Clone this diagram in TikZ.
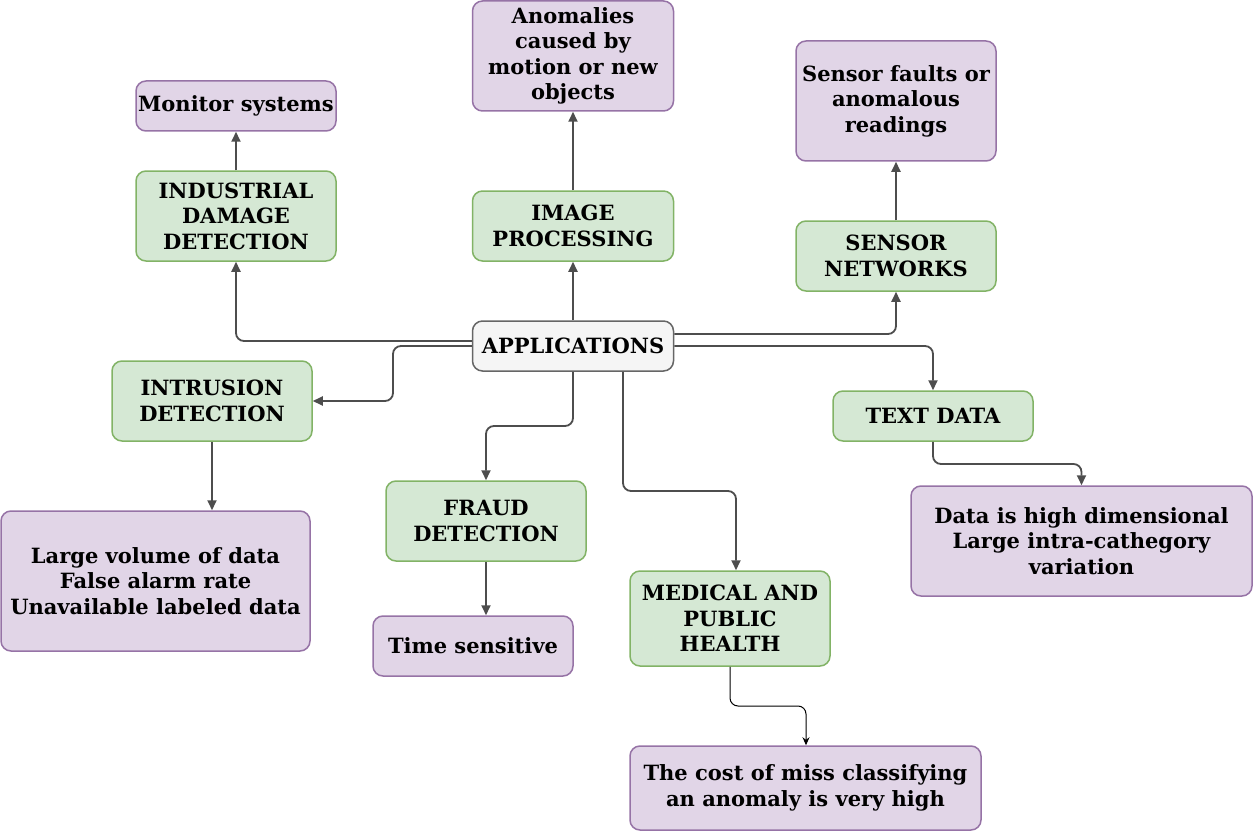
\documentclass[tikz,border=0pt]{standalone}
\usepackage{fontspec}
\setmainfont{DejaVu Serif}
\usetikzlibrary{arrows.meta}
\definecolor{gfill}{HTML}{D5E8D4}
\definecolor{gdraw}{HTML}{82B366}
\definecolor{pfill}{HTML}{E1D5E7}
\definecolor{pdraw}{HTML}{9673A6}
\definecolor{afill}{HTML}{F5F5F5}
\definecolor{adraw}{HTML}{666666}
\definecolor{ecol}{HTML}{4D4D4D}
\tikzset{
  box/.style={rounded corners=10pt, line width=1.5pt, inner sep=0pt, align=center,
    font=\fontsize{21}{25.5}\selectfont\bfseries},
  gbox/.style={box, fill=gfill, draw=gdraw},
  pbox/.style={box, fill=pfill, draw=pdraw},
  abox/.style={box, fill=afill, draw=adraw},
  edge/.style={draw=ecol, line width=1.8pt, rounded corners=8pt, -{Triangle[length=10pt,width=9pt]}},
  thinedge/.style={draw=black, line width=1pt, rounded corners=8pt, -{Stealth[length=8pt,width=7pt]}},
}
\begin{document}
\begin{tikzpicture}[x=1pt,y=-1pt]
\useasboundingbox (0,0) rectangle (1253,832);
\node[abox, minimum width=201pt, minimum height=50pt] (app) at (573,346) {APPLICATIONS};
\node[gbox, minimum width=201pt, minimum height=70pt] (img) at (573,226) {IMAGE\\PROCESSING};
\node[pbox, minimum width=201pt, minimum height=110pt] (anom) at (573,56) {Anomalies\\caused by\\motion or new\\objects};
\node[gbox, minimum width=200pt, minimum height=90pt] (ind) at (236,216) {INDUSTRIAL\\DAMAGE\\DETECTION};
\node[pbox, minimum width=200pt, minimum height=50pt] (mon) at (236,106) {Monitor systems};
\node[gbox, minimum width=200pt, minimum height=70pt] (sens) at (896,256) {SENSOR\\NETWORKS};
\node[pbox, minimum width=200pt, minimum height=120pt] (sfault) at (896,101) {Sensor faults or\\anomalous\\readings};
\node[gbox, minimum width=200pt, minimum height=80pt] (intr) at (212,401) {INTRUSION\\DETECTION};
\node[pbox, minimum width=309pt, minimum height=140pt] (large) at (155.5,581) {Large volume of data\\False alarm rate\\Unavailable labeled data};
\node[gbox, minimum width=200pt, minimum height=80pt] (fraud) at (486,521) {FRAUD\\DETECTION};
\node[pbox, minimum width=200pt, minimum height=60pt] (time) at (473,646) {Time sensitive};
\node[gbox, minimum width=200pt, minimum height=95pt] (med) at (730,618.5) {MEDICAL AND\\PUBLIC\\HEALTH};
\node[pbox, minimum width=351pt, minimum height=84pt] (cost) at (805.5,788) {The cost of miss classifying\\an anomaly is very high};
\node[gbox, minimum width=200pt, minimum height=50pt] (text) at (933,416) {TEXT DATA};
\node[pbox, minimum width=341pt, minimum height=110pt] (dim) at (1081.5,541) {Data is high dimensional\\Large intra-cathegory\\variation};

\draw[edge] (app.north) -- (img.south);
\draw[edge] (img.north) -- (anom.south);
\draw[edge] (app.west |- 0,341) -| (ind.south);
\draw[edge] (ind.north) -- (mon.south);
\draw[edge] (app.west) -| (393,0 |- intr.east) -- (intr.east);
\draw[edge] (intr.south) -- (large.north -| intr.south);
\draw[edge] (app.south) -- (app.south |- 0,426) -| (fraud.north);
\draw[edge] (fraud.south) -- (time.north -| fraud.south);
\draw[edge] (623,0 |- app.south) -- (623,491) -| ([xshift=6pt]med.north);
\draw[thinedge] (med.south) -- (med.south |- 0,706) -| (806,0 |- cost.north);
\draw[edge] (app.east |- 0,334) -| (sens.south);
\draw[edge] (sens.north) -- (sfault.south);
\draw[edge] (app.east) -| (text.north);
\draw[edge] (text.south) -- (text.south |- 0,464) -| (dim.north);
\end{tikzpicture}
\end{document}
